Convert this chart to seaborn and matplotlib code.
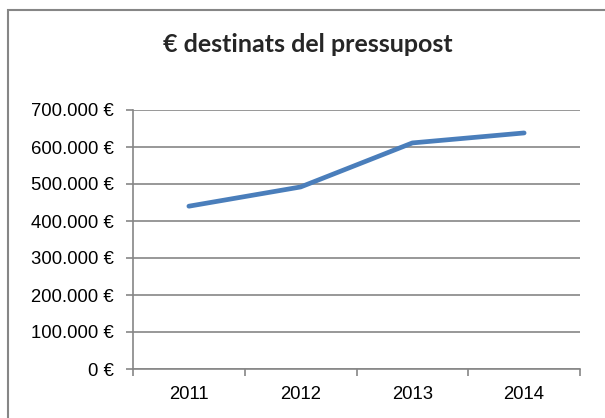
import matplotlib
matplotlib.use("Agg")
import matplotlib.pyplot as plt
import seaborn as sns
import pandas as pd
from matplotlib.ticker import FuncFormatter, FixedLocator
from matplotlib.patches import Rectangle

years = ["2011", "2012", "2013", "2014"]
values = [440000, 492000, 611000, 638000]
title = "€ destinats del pressupost"

sns.set_style("white")
plt.rcParams['font.family'] = ['Liberation Sans', 'DejaVu Sans']

df = pd.DataFrame({"year": years, "value": values})

fig = plt.figure(figsize=(6.05, 4.18), dpi=100)
ax = fig.add_axes([133/605, 1 - 369/418, 447/605, 259/418])

sns.lineplot(data=df, x="year", y="value", ax=ax, color="#4A7EBB",
             linewidth=3.4, solid_capstyle="round", solid_joinstyle="round", sort=False)

grey = "#868686"
ax.set_xlim(-0.5, len(years) - 0.5)
ax.set_ylim(0, 700000)
ax.set_yticks([i * 100000 for i in range(8)])
ax.yaxis.set_major_formatter(FuncFormatter(lambda v, p: f"{int(v):,}".replace(",", ".") + " €"))
ax.yaxis.grid(True, color=grey, linewidth=1.2)
ax.xaxis.grid(False)
ax.set_xlabel("")
ax.set_ylabel("")

for s in ["top", "right"]:
    ax.spines[s].set_visible(False)
for s in ["left", "bottom"]:
    ax.spines[s].set_color(grey)
    ax.spines[s].set_linewidth(1.2)

ax.tick_params(axis="y", which="major", length=5, width=1.2, color=grey,
               labelsize=13.3, pad=9, left=True, labelcolor="black")
ax.tick_params(axis="x", which="major", length=0, labelsize=13.3, pad=12, labelcolor="black")
ax.xaxis.set_minor_locator(FixedLocator([i - 0.5 for i in range(len(years) + 1)]))
ax.tick_params(axis="x", which="minor", length=5, width=1.2, color=grey, bottom=True)

fig.text(308/605, 1 - 45/418, title, ha="center", va="center",
         fontsize=18, fontweight="bold", family=["Lato", "DejaVu Sans"])

fig.patches.append(Rectangle((8/605, -0.1), 1.2, 1 - 10/418 + 0.1,
                             transform=fig.transFigure, fill=False,
                             edgecolor=grey, linewidth=1.5, figure=fig))

fig.savefig("out.png", dpi=100)
